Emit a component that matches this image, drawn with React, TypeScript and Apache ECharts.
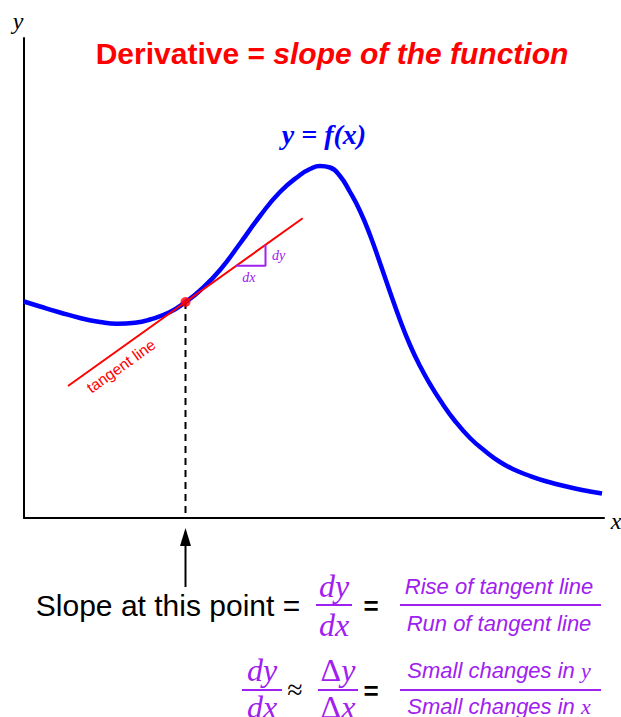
import React, { useEffect, useRef } from "react";
import * as echarts from "echarts";

// Curve y = f(x) (x: 0..580, y: 0..480 axis units)
const curveX = [0, 16, 36, 56, 76, 93, 111, 126, 146, 161.5, 176, 196, 216, 236, 256, 276, 286, 296, 306, 316, 326, 336, 346, 356, 366, 376, 386, 396, 406, 416, 431, 446, 461, 476, 491, 506, 521, 536, 551, 566, 578];
const curveY = [216.5, 211.5, 205.5, 200, 196, 194.2, 195.2, 198.5, 206, 216, 227.5, 248, 274.5, 302, 326, 343, 349, 352, 350.5, 342, 326, 307, 283, 255, 226, 198, 173, 152, 134, 118, 97, 80, 67, 56, 48, 42, 37, 33, 29.5, 26.5, 24.5];

// point of tangency and the tangent line
const pointX = [161.5];
const pointY = [216];
const tangentX = [44, 278.7];
const tangentY = [132, 299.7];

// dx / dy triangle
const triX = [212, 241.5, 241.5];
const triY = [252.3, 252.3, 273.2];

// where the "tangent line" label sits (axis units)
const tangentLabel = [97, 152];

const X_MAX = 580;
const Y_MAX = 480;

const SANS = "Liberation Sans, Arial, sans-serif";
const SERIF = "Liberation Serif, Times New Roman, serif";
const RED = "#ff0000";
const BLUE = "#0000ff";
const PURPLE = "#a020f0";

export default function App() {
  const ref = useRef<HTMLDivElement>(null);

  useEffect(() => {
    document.body.style.margin = "0";
    const chart = echarts.init(ref.current!, null, { renderer: "svg" });
    const zip = (xs: number[], ys: number[]) => xs.map((x, i) => [x, ys[i]]);

    chart.setOption({
      animation: false,
      grid: { left: 24, top: 38, width: 580, height: 480 },
      xAxis: {
        type: "value",
        min: 0,
        max: X_MAX,
        axisLine: { show: true, lineStyle: { color: "#000", width: 2 } },
        axisTick: { show: false },
        axisLabel: { show: false },
        splitLine: { show: false },
      },
      yAxis: {
        type: "value",
        min: 0,
        max: Y_MAX,
        axisLine: { show: true, lineStyle: { color: "#000", width: 2 } },
        axisTick: { show: false },
        axisLabel: { show: false },
        splitLine: { show: false },
      },
      series: [
        {
          type: "line",
          data: [
            [pointX[0], pointY[0]],
            [pointX[0], 0],
          ],
          symbol: "none",
          lineStyle: { color: "#000", width: 2, type: [7, 5] },
          z: 1,
        },
        {
          type: "line",
          data: zip(curveX, curveY),
          smooth: 0.5,
          symbol: "none",
          lineStyle: { color: BLUE, width: 4.5 },
          z: 2,
        },
        {
          type: "line",
          data: zip(tangentX, tangentY),
          symbol: "none",
          lineStyle: { color: RED, width: 2 },
          z: 3,
        },
        {
          type: "line",
          data: zip(triX, triY),
          symbol: "none",
          lineStyle: { color: PURPLE, width: 2 },
          z: 3,
        },
        {
          type: "scatter",
          data: zip(pointX, pointY),
          symbol: "circle",
          symbolSize: 10,
          itemStyle: { color: RED },
          z: 4,
        },
      ],
    });

    const px = (x: number, y: number) => chart.convertToPixel({ gridIndex: 0 }, [x, y]) as number[];
    const p0 = px(pointX[0], 0);
    const triCorner = px(triX[1], triY[1]);
    const triMidH = px((triX[0] + triX[1]) / 2, triY[0]);
    const triMidV = px(triX[1], (triY[1] + triY[2]) / 2);
    const tA = px(tangentX[0], tangentY[0]);
    const tB = px(tangentX[1], tangentY[1]);
    const ang = Math.atan2(tA[1] - tB[1], tB[0] - tA[0]);
    const labelPos = px(tangentLabel[0], tangentLabel[1]);

    const txt = (x: number, y: number, text: string, font: string, fill: string, extra: any = {}) => ({
      type: "text",
      x,
      y,
      style: { text, font, fill, align: "center", verticalAlign: "middle", ...extra },
    });
    const rich = (x: number, y: number, text: string, r: any) => ({
      type: "text",
      x,
      y,
      style: { text, align: "center", verticalAlign: "middle", rich: r },
    });

    const frac = {
      i: { font: `italic 32px ${SERIF}`, fill: PURPLE, color: PURPLE },
      u: { font: `32px ${SERIF}`, fill: PURPLE, color: PURPLE },
    };
    const small = {
      s: { font: `italic 22px ${SANS}`, fill: PURPLE, color: PURPLE },
      m: { font: `italic 22px ${SERIF}`, fill: PURPLE, color: PURPLE },
    };

    chart.setOption({
      graphic: [
        // axis names
        txt(18, 21, "y", `italic 24px ${SERIF}`, "#000"),
        txt(616, 521, "x", `italic 24px ${SERIF}`, "#000"),
        // title
        rich(332, 53, "{a|Derivative = }{b|slope of the function}", {
          a: { font: `bold 30px ${SANS}`, fill: RED, color: RED },
          b: { font: `italic bold 30px ${SANS}`, fill: RED, color: RED },
        }),
        txt(324, 134, "y = f(x)", `italic bold 28px ${SERIF}`, BLUE),
        // triangle labels
        txt(triMidV[0] + 13, triMidV[1], "dy", `italic 14px ${SERIF}`, PURPLE),
        txt(triMidH[0] - 2, triCorner[1] + 12, "dx", `italic 14px ${SERIF}`, PURPLE),
        // tangent label
        {
          type: "text",
          x: labelPos[0],
          y: labelPos[1],
          rotation: ang,
          style: { text: "tangent line", font: `15.5px ${SANS}`, fill: RED, align: "center", verticalAlign: "middle" },
        },
        // arrow below the axis
        {
          type: "line",
          shape: { x1: p0[0], y1: 544, x2: p0[0], y2: 587 },
          style: { stroke: "#000", lineWidth: 2 },
        },
        {
          type: "polygon",
          shape: { points: [[p0[0], 528], [p0[0] - 5.5, 546], [p0[0] + 5.5, 546]] },
          style: { fill: "#000" },
        },
        // first formula row
        txt(168, 605, "Slope at this point =", `30px ${SANS}`, "#000"),
        txt(334, 586, "dy", `italic 32px ${SERIF}`, PURPLE),
        { type: "line", shape: { x1: 316, y1: 605, x2: 352, y2: 605 }, style: { stroke: PURPLE, lineWidth: 2 } },
        txt(334, 625, "dx", `italic 32px ${SERIF}`, PURPLE),
        txt(371, 606, "=", `bold 26px ${SANS}`, "#000"),
        txt(499, 586, "Rise of tangent line", `italic 22px ${SANS}`, PURPLE),
        { type: "line", shape: { x1: 400, y1: 605, x2: 601, y2: 605 }, style: { stroke: PURPLE, lineWidth: 2 } },
        txt(499, 623, "Run of tangent line", `italic 22px ${SANS}`, PURPLE),
        // second formula row
        txt(262, 670, "dy", `italic 32px ${SERIF}`, PURPLE),
        { type: "line", shape: { x1: 242, y1: 690, x2: 282, y2: 690 }, style: { stroke: PURPLE, lineWidth: 2 } },
        txt(262, 707, "dx", `italic 32px ${SERIF}`, PURPLE),
        txt(295, 689, "≈", `28px ${SERIF}`, "#000"),
        rich(338, 670, "{u|Δ}{i|y}", frac),
        { type: "line", shape: { x1: 318, y1: 690, x2: 358, y2: 690 }, style: { stroke: PURPLE, lineWidth: 2 } },
        rich(338, 707, "{u|Δ}{i|x}", frac),
        txt(371, 691, "=", `bold 26px ${SANS}`, "#000"),
        rich(499, 670, "{s|Small changes in }{m|y}", small),
        { type: "line", shape: { x1: 400, y1: 690, x2: 601, y2: 690 }, style: { stroke: PURPLE, lineWidth: 2 } },
        rich(499, 706, "{s|Small changes in }{m|x}", small),
      ],
    });

    return () => chart.dispose();
  }, []);

  return <div ref={ref} style={{ width: 621, height: 717 }} />;
}
